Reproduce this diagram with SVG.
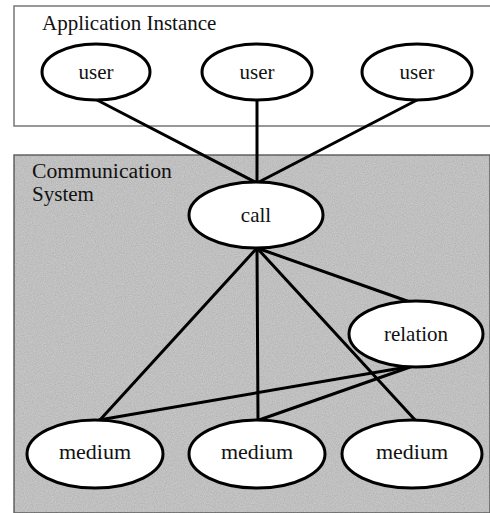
<svg xmlns="http://www.w3.org/2000/svg" width="490" height="513" viewBox="0 0 490 513">
  <style>
    .node ellipse { fill: #ffffff; stroke: #000000; stroke-width: 3; }
    .node text, .label { font-family: "Liberation Serif", "Times New Roman", serif; font-size: 21px; fill: #111111; }
    .node text { text-anchor: middle; }
    .node.medium text { font-size: 22px; }
    .edge { stroke: #000000; stroke-width: 3; stroke-linecap: round; fill: none; }
  </style>
  <defs>
    <filter id="grain" x="0" y="0" width="100%" height="100%">
      <feTurbulence type="fractalNoise" baseFrequency="0.9" numOctaves="2" seed="3" result="n"/>
      <feColorMatrix in="n" type="matrix" values="0 0 0 0 0  0 0 0 0 0  0 0 0 0 0  0 0 0 0.16 0" result="dark"/>
      <feComposite in="dark" in2="SourceGraphic" operator="in"/>
    </filter>
  </defs>

  <rect width="490" height="513" fill="#ffffff"/>

  <!-- Application Instance frame -->
  <g id="application-instance">
    <path d="M490 6 H14 V126 H490" fill="none" stroke="#777777" stroke-width="1.5"/>
    <text class="label" x="42" y="30">Application Instance</text>
  </g>

  <!-- Communication System area -->
  <g id="communication-system">
    <rect x="14" y="155" width="476" height="358" fill="#d0d0d0" stroke="#666666" stroke-width="1.5"/>
    <rect x="14" y="155" width="476" height="358" fill="#d0d0d0" filter="url(#grain)"/>
    <text class="label" x="32" y="178" style="font-size:20px" textLength="140" lengthAdjust="spacingAndGlyphs">Communication</text>
    <text class="label" x="32" y="200.5" style="font-size:20px" textLength="62" lengthAdjust="spacingAndGlyphs">System</text>
  </g>

  <!-- connectors -->
  <g id="connectors">
    <line class="edge" x1="97" y1="100" x2="257" y2="183"/>
    <line class="edge" x1="257" y1="100" x2="257" y2="183"/>
    <line class="edge" x1="417" y1="100" x2="257" y2="183"/>
    <line class="edge" x1="257" y1="248" x2="99" y2="421"/>
    <line class="edge" x1="257" y1="248" x2="258" y2="421"/>
    <line class="edge" x1="257" y1="248" x2="416" y2="421"/>
    <line class="edge" x1="257" y1="248" x2="410" y2="302"/>
    <line class="edge" x1="413" y1="366" x2="99" y2="420"/>
    <line class="edge" x1="413" y1="366" x2="259" y2="420"/>
  </g>

  <g id="user-1" class="node">
    <ellipse cx="96" cy="72" rx="54" ry="28"/>
    <text x="96" y="79">user</text>
  </g>
  <g id="user-2" class="node">
    <ellipse cx="257" cy="72" rx="55" ry="28"/>
    <text x="257" y="79">user</text>
  </g>
  <g id="user-3" class="node">
    <ellipse cx="417" cy="72" rx="55" ry="28"/>
    <text x="417" y="79">user</text>
  </g>

  <g id="call" class="node">
    <ellipse cx="256" cy="215" rx="67" ry="33"/>
    <text x="256" y="222">call</text>
  </g>

  <g id="relation" class="node">
    <ellipse cx="416" cy="334" rx="67" ry="33"/>
    <text x="416" y="341">relation</text>
  </g>

  <g id="medium-1" class="node medium">
    <ellipse cx="95" cy="454" rx="68" ry="34"/>
    <text x="95" y="459">medium</text>
  </g>
  <g id="medium-2" class="node medium">
    <ellipse cx="257" cy="454" rx="68" ry="34"/>
    <text x="257" y="459">medium</text>
  </g>
  <g id="medium-3" class="node medium">
    <ellipse cx="412" cy="454" rx="70" ry="34"/>
    <text x="412" y="459">medium</text>
  </g>
</svg>
